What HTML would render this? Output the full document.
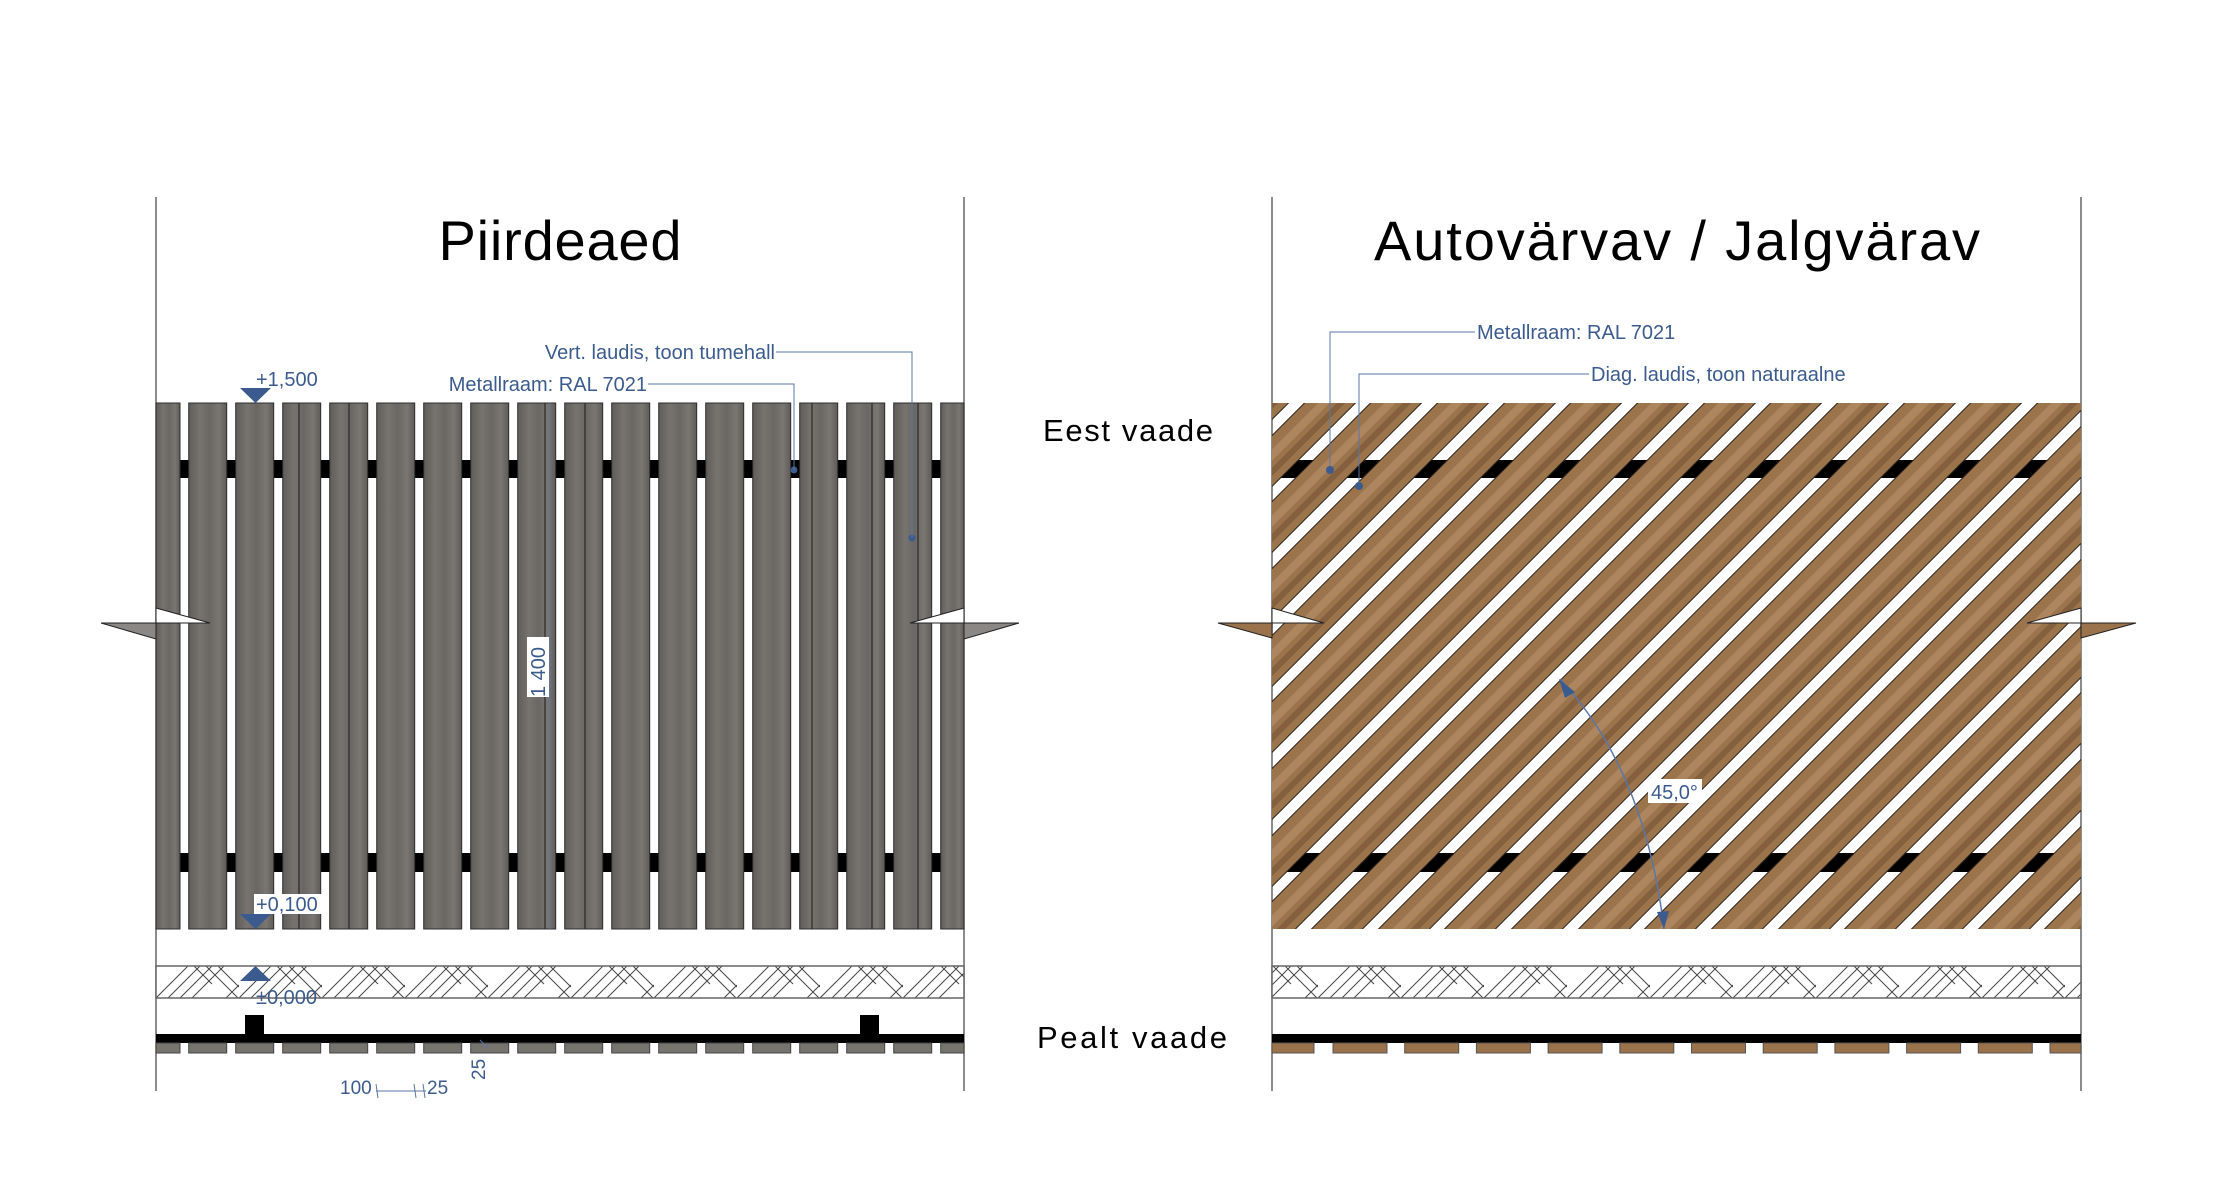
<!DOCTYPE html>
<html><head><meta charset="utf-8"><style>
html,body{margin:0;padding:0;background:#fff;}
svg{display:block;}
text{font-family:"Liberation Sans",sans-serif;}
</style></head><body>
<svg width="2230" height="1194" viewBox="0 0 2230 1194" xmlns="http://www.w3.org/2000/svg">
<defs>
<linearGradient id="grey" x1="0" x2="1" y1="0" y2="0">
<stop offset="0" stop-color="#5f5c5a"/><stop offset="0.3" stop-color="#77736f"/><stop offset="0.55" stop-color="#6a6764"/><stop offset="0.8" stop-color="#7a7672"/><stop offset="1" stop-color="#5e5b58"/>
</linearGradient>
<pattern id="hatch" patternUnits="userSpaceOnUse" x="156" y="966" width="83" height="32">
<rect width="83" height="32" fill="#fff"/>
<g stroke="#444" stroke-width="1" fill="none">
<path d="M0,32 L32,0 M12,32 L44,0 M24,32 L56,0 M36,32 L68,0"/>
<path d="M50,0 L82,32 M62,0 L83,21 M70,32 L83,19 M38,0 L56,18"/>
</g>
</pattern>
<clipPath id="gate"><rect x="1272" y="403" width="809" height="526"/></clipPath>
</defs>

<g stroke="#666" stroke-width="1.5">
<line x1="156" y1="197" x2="156" y2="1091"/><line x1="964" y1="197" x2="964" y2="1091"/>
<line x1="1272" y1="197" x2="1272" y2="1091"/><line x1="2081" y1="197" x2="2081" y2="1091"/>
</g>

<text x="560" y="260" font-size="56" text-anchor="middle" textLength="243" fill="#000">Piirdeaed</text>
<text x="1677" y="260" font-size="56" text-anchor="middle" textLength="606" fill="#000">Autovärvav / Jalgvärav</text>
<text x="1128" y="441" font-size="31" text-anchor="middle" textLength="170" fill="#000">Eest vaade</text>
<text x="1132" y="1048" font-size="31" text-anchor="middle" textLength="190" fill="#000">Pealt vaade</text>

<!-- LEFT FENCE -->
<g fill="#000">
<rect x="180" y="460" width="761" height="18"/>
<rect x="180" y="853" width="761" height="19"/>
</g>
<g fill="url(#grey)" stroke="#2e2e2e" stroke-width="1">
<rect x="156" y="403" width="24" height="526"/>
<rect x="188.7" y="403" width="38" height="526"/>
<rect x="235.7" y="403" width="38" height="526"/>
<rect x="282.7" y="403" width="38" height="526"/>
<rect x="329.7" y="403" width="38" height="526"/>
<rect x="376.7" y="403" width="38" height="526"/>
<rect x="423.7" y="403" width="38" height="526"/>
<rect x="470.7" y="403" width="38" height="526"/>
<rect x="517.7" y="403" width="38" height="526"/>
<rect x="564.7" y="403" width="38" height="526"/>
<rect x="611.7" y="403" width="38" height="526"/>
<rect x="658.7" y="403" width="38" height="526"/>
<rect x="705.7" y="403" width="38" height="526"/>
<rect x="752.7" y="403" width="38" height="526"/>
<rect x="799.7" y="403" width="38" height="526"/>
<rect x="846.7" y="403" width="38" height="526"/>
<rect x="893.7" y="403" width="38" height="526"/>
<rect x="940.7" y="403" width="23.3" height="526"/>
</g>
<g stroke="#2a2a2a" stroke-width="1.2">
<line x1="299" y1="403" x2="299" y2="929"/><line x1="349" y1="403" x2="349" y2="929"/>
<line x1="545" y1="403" x2="545" y2="929"/><line x1="585" y1="403" x2="585" y2="929"/>
<line x1="812" y1="403" x2="812" y2="929"/><line x1="872" y1="403" x2="872" y2="929"/>
<line x1="918" y1="403" x2="918" y2="929"/>
</g>
<!-- breaks -->
<polygon points="156,608 210,623 156,623" fill="#fff" stroke="#222" stroke-width="1"/>
<polygon points="101,623 156,623 156,639" fill="#8a8784" stroke="#222" stroke-width="1"/>
<polygon points="964,608 910,623 964,623" fill="#fff" stroke="#222" stroke-width="1"/>
<polygon points="964,623 1019,623 964,639" fill="#8a8784" stroke="#222" stroke-width="1"/>

<rect x="156" y="966" width="808" height="32" fill="url(#hatch)" stroke="#666" stroke-width="1.5"/>
<rect x="156" y="1034" width="808" height="9" fill="#000"/>
<rect x="245" y="1015" width="19" height="19" fill="#000"/>
<rect x="860" y="1015" width="19" height="19" fill="#000"/>
<g fill="#77736f" stroke="#444" stroke-width="1">
<rect x="156" y="1043" width="24" height="10"/>
<rect x="188.7" y="1043" width="38" height="10"/><rect x="235.7" y="1043" width="38" height="10"/>
<rect x="282.7" y="1043" width="38" height="10"/><rect x="329.7" y="1043" width="38" height="10"/>
<rect x="376.7" y="1043" width="38" height="10"/><rect x="423.7" y="1043" width="38" height="10"/>
<rect x="470.7" y="1043" width="38" height="10"/><rect x="517.7" y="1043" width="38" height="10"/>
<rect x="564.7" y="1043" width="38" height="10"/><rect x="611.7" y="1043" width="38" height="10"/>
<rect x="658.7" y="1043" width="38" height="10"/><rect x="705.7" y="1043" width="38" height="10"/>
<rect x="752.7" y="1043" width="38" height="10"/><rect x="799.7" y="1043" width="38" height="10"/>
<rect x="846.7" y="1043" width="38" height="10"/><rect x="893.7" y="1043" width="38" height="10"/>
<rect x="940.7" y="1043" width="23.3" height="10"/>
</g>

<!-- left annotations -->
<g fill="#3b5b8e" stroke="none" font-size="20">
<polygon points="240,388 271,388 255.5,403"/>
<text x="256" y="386">+1,500</text>
<rect x="254" y="894" width="68" height="20" fill="#fff"/>
<text x="256" y="911">+0,100</text>
<polygon points="240,914 271,914 255.5,929"/>
<polygon points="255.5,966 240,981 271,981"/>
<text x="256" y="1004" fill="#3b5b8e">±0,000</text>
<text x="775" y="359" text-anchor="end">Vert. laudis, toon tumehall</text>
<text x="647" y="391" text-anchor="end">Metallraam: RAL 7021</text>
<circle cx="912" cy="538" r="3.5"/><circle cx="794" cy="470" r="3.5"/>
<text x="340" y="1094" font-size="19">100</text>
<text x="427" y="1094" font-size="19">25</text>
<text transform="translate(485,1080) rotate(-90)" font-size="19">25</text>
</g>
<g stroke="#5a77a6" stroke-width="1" fill="none">
<polyline points="776,352 912,352 912,538"/>
<polyline points="648,384 794,384 794,470"/>
<line x1="550" y1="403" x2="550" y2="929"/>
<line x1="376" y1="1091" x2="426" y2="1091"/>
<line x1="376" y1="1084" x2="378" y2="1098"/><line x1="414" y1="1084" x2="416" y2="1098"/><line x1="423" y1="1084" x2="425" y2="1098"/>
<line x1="480" y1="1040" x2="488" y2="1048"/>
</g>
<rect x="527" y="637" width="22" height="60" fill="#fff"/>
<text transform="translate(545,697) rotate(-90)" font-size="20" fill="#3b5b8e">1 400</text>

<!-- RIGHT GATE -->
<rect x="1272" y="460" width="809" height="18" fill="#000"/>
<rect x="1272" y="853" width="809" height="19" fill="#000"/>
<g clip-path="url(#gate)">
<g fill="none" stroke-linecap="butt" transform="translate(0,0)">
<path id="b1" d="M637,1029 L1363,303 M704,1029 L1430,303 M770,1029 L1496,303 M837,1029 L1563,303 M904,1029 L1630,303 M970,1029 L1696,303 M1037,1029 L1763,303 M1104,1029 L1830,303 M1170,1029 L1896,303 M1237,1029 L1963,303 M1304,1029 L2030,303 M1370,1029 L2096,303 M1437,1029 L2163,303 M1504,1029 L2230,303 M1570,1029 L2296,303 M1637,1029 L2363,303 M1704,1029 L2430,303 M1770,1029 L2496,303 M1837,1029 L2563,303 M1904,1029 L2630,303 M1970,1029 L2696,303" stroke="#2a2018" stroke-width="37"/>
<path d="M637,1029 L1363,303 M704,1029 L1430,303 M770,1029 L1496,303 M837,1029 L1563,303 M904,1029 L1630,303 M970,1029 L1696,303 M1037,1029 L1763,303 M1104,1029 L1830,303 M1170,1029 L1896,303 M1237,1029 L1963,303 M1304,1029 L2030,303 M1370,1029 L2096,303 M1437,1029 L2163,303 M1504,1029 L2230,303 M1570,1029 L2296,303 M1637,1029 L2363,303 M1704,1029 L2430,303 M1770,1029 L2496,303 M1837,1029 L2563,303 M1904,1029 L2630,303 M1970,1029 L2696,303" stroke="#9c744c" stroke-width="35"/>
<path d="M631,1029 L1357,303 M698,1029 L1424,303 M764,1029 L1490,303 M831,1029 L1557,303 M898,1029 L1624,303 M964,1029 L1690,303 M1031,1029 L1757,303 M1098,1029 L1824,303 M1164,1029 L1890,303 M1231,1029 L1957,303 M1298,1029 L2024,303 M1364,1029 L2090,303 M1431,1029 L2157,303 M1498,1029 L2224,303 M1564,1029 L2290,303 M1631,1029 L2357,303 M1698,1029 L2424,303 M1764,1029 L2490,303 M1831,1029 L2557,303 M1898,1029 L2624,303 M1964,1029 L2690,303" stroke="#b58d66" stroke-width="8" opacity="0.7"/>
<path d="M648,1029 L1374,303 M715,1029 L1441,303 M781,1029 L1507,303 M848,1029 L1574,303 M915,1029 L1641,303 M981,1029 L1707,303 M1048,1029 L1774,303 M1115,1029 L1841,303 M1181,1029 L1907,303 M1248,1029 L1974,303 M1315,1029 L2041,303 M1381,1029 L2107,303 M1448,1029 L2174,303 M1515,1029 L2241,303 M1581,1029 L2307,303 M1648,1029 L2374,303 M1715,1029 L2441,303 M1781,1029 L2507,303 M1848,1029 L2574,303 M1915,1029 L2641,303 M1981,1029 L2707,303" stroke="#7a583b" stroke-width="6" opacity="0.7"/>
</g>
</g>
<!-- gate breaks -->
<polygon points="1272,608 1324,623 1272,623" fill="#fff" stroke="#222" stroke-width="1"/>
<polygon points="1218,623 1272,623 1272,638" fill="#9a724c" stroke="#222" stroke-width="1"/>
<polygon points="2081,608 2027,623 2081,623" fill="#fff" stroke="#222" stroke-width="1"/>
<polygon points="2081,623 2136,623 2081,638" fill="#9a724c" stroke="#222" stroke-width="1"/>

<rect x="1272" y="966" width="809" height="32" fill="url(#hatch)" stroke="#666" stroke-width="1.5"/>
<rect x="1272" y="1034" width="809" height="9" fill="#000"/>
<g fill="#9a724c" stroke="#555" stroke-width="1">
<rect x="1272" y="1043" width="42" height="10"/>
<rect x="1333" y="1043" width="54" height="10"/><rect x="1404.7" y="1043" width="54" height="10"/>
<rect x="1476.4" y="1043" width="54" height="10"/><rect x="1548.1" y="1043" width="54" height="10"/>
<rect x="1619.8" y="1043" width="54" height="10"/><rect x="1691.5" y="1043" width="54" height="10"/>
<rect x="1763.2" y="1043" width="54" height="10"/><rect x="1834.9" y="1043" width="54" height="10"/>
<rect x="1906.6" y="1043" width="54" height="10"/><rect x="1978.3" y="1043" width="54" height="10"/>
<rect x="2050" y="1043" width="31" height="10"/>
</g>

<!-- right annotations -->
<g stroke="#5a77a6" stroke-width="1" fill="none">
<polyline points="1475,332 1330,332 1330,470"/>
<polyline points="1589,374 1359,374 1359,486"/>
<path d="M1560,679 Q1645,770 1664,929" stroke-width="1.5"/>
</g>
<g fill="#3b5b8e" font-size="20">
<text x="1477" y="339">Metallraam: RAL 7021</text>
<text x="1591" y="381">Diag. laudis, toon naturaalne</text>
<circle cx="1330" cy="470" r="4"/><circle cx="1359" cy="486" r="4"/>
<polygon points="1559,679 1575,692 1565,698"/>
<polygon points="1664,929 1657,912 1669,911"/>
<rect x="1648" y="779" width="54" height="24" fill="#fff"/>
<text x="1651" y="799">45,0°</text>
</g>
</svg>
</body></html>
